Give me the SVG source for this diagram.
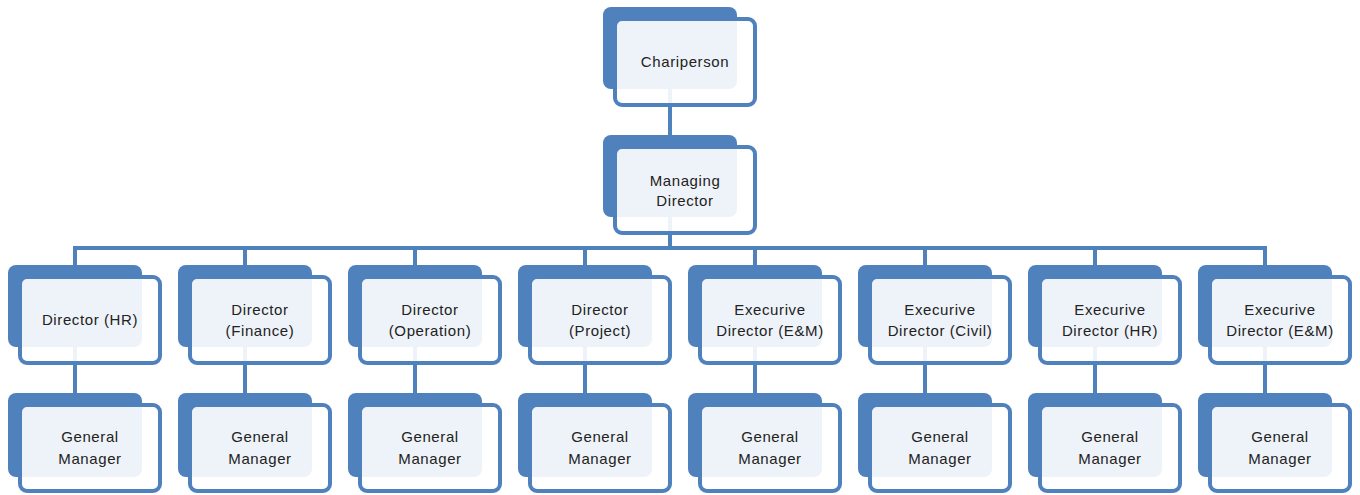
<svg xmlns="http://www.w3.org/2000/svg" width="1360" height="495" viewBox="0 0 1360 495">
<style>
.back{fill:#4f81bd}
.front{fill:#ffffff;fill-opacity:0.9;stroke:#4f81bd;stroke-width:4}
.lbl{font-family:"Liberation Sans",Arial,sans-serif;font-size:15px;fill:#222222;text-anchor:middle;letter-spacing:0.6px}
.conn{stroke:#4f81bd;stroke-width:4;fill:none}
</style>
<rect width="1360" height="495" fill="#ffffff"/>
<g id="connectors">
<line class="conn" x1="670" y1="80" x2="670" y2="140"/>
<line class="conn" x1="670" y1="200" x2="670" y2="248"/>
<line class="conn" x1="73" y1="248" x2="1267" y2="248"/>
<path class="conn" d="M75 248V270M245 248V270M415 248V270M585 248V270M755 248V270M925 248V270M1095 248V270M1265 248V270"/>
<path class="conn" d="M75 340V398M245 340V398M415 340V398M585 340V398M755 340V398M925 340V398M1095 340V398M1265 340V398"/>
</g>
<g id="chairperson"><rect class="back" x="603" y="7" width="134" height="82" rx="8"/><rect class="front" x="615" y="19" width="140" height="86" rx="7"/><text class="lbl" x="685" y="67">Chariperson</text></g>
<g id="md"><rect class="back" x="603" y="135" width="134" height="82" rx="8"/><rect class="front" x="615" y="147" width="140" height="86" rx="7"/><text class="lbl" x="685" y="186">Managing</text><text class="lbl" x="685" y="206">Director</text></g>

<g id="d1"><rect class="back" x="8" y="265" width="134" height="82" rx="8"/><rect class="front" x="20" y="277" width="140" height="86" rx="7"/><text class="lbl" x="90" y="325">Director (HR)</text></g>
<g id="d2"><rect class="back" x="178" y="265" width="134" height="82" rx="8"/><rect class="front" x="190" y="277" width="140" height="86" rx="7"/><text class="lbl" x="260" y="315">Director</text><text class="lbl" x="260" y="336">(Finance)</text></g>
<g id="d3"><rect class="back" x="348" y="265" width="134" height="82" rx="8"/><rect class="front" x="360" y="277" width="140" height="86" rx="7"/><text class="lbl" x="430" y="315">Director</text><text class="lbl" x="430" y="336">(Operation)</text></g>
<g id="d4"><rect class="back" x="518" y="265" width="134" height="82" rx="8"/><rect class="front" x="530" y="277" width="140" height="86" rx="7"/><text class="lbl" x="600" y="315">Director</text><text class="lbl" x="600" y="336">(Project)</text></g>
<g id="d5"><rect class="back" x="688" y="265" width="134" height="82" rx="8"/><rect class="front" x="700" y="277" width="140" height="86" rx="7"/><text class="lbl" x="770" y="315">Execurive</text><text class="lbl" x="770" y="336">Director (E&amp;M)</text></g>
<g id="d6"><rect class="back" x="858" y="265" width="134" height="82" rx="8"/><rect class="front" x="870" y="277" width="140" height="86" rx="7"/><text class="lbl" x="940" y="315">Execurive</text><text class="lbl" x="940" y="336">Director (Civil)</text></g>
<g id="d7"><rect class="back" x="1028" y="265" width="134" height="82" rx="8"/><rect class="front" x="1040" y="277" width="140" height="86" rx="7"/><text class="lbl" x="1110" y="315">Execurive</text><text class="lbl" x="1110" y="336">Director (HR)</text></g>
<g id="d8"><rect class="back" x="1198" y="265" width="134" height="82" rx="8"/><rect class="front" x="1210" y="277" width="140" height="86" rx="7"/><text class="lbl" x="1280" y="315">Execurive</text><text class="lbl" x="1280" y="336">Director (E&amp;M)</text></g>

<g id="g1"><rect class="back" x="8" y="393" width="134" height="84" rx="8"/><rect class="front" x="20" y="405" width="140" height="86" rx="7"/><text class="lbl" x="90" y="442">General</text><text class="lbl" x="90" y="464">Manager</text></g>
<g id="g2"><rect class="back" x="178" y="393" width="134" height="84" rx="8"/><rect class="front" x="190" y="405" width="140" height="86" rx="7"/><text class="lbl" x="260" y="442">General</text><text class="lbl" x="260" y="464">Manager</text></g>
<g id="g3"><rect class="back" x="348" y="393" width="134" height="84" rx="8"/><rect class="front" x="360" y="405" width="140" height="86" rx="7"/><text class="lbl" x="430" y="442">General</text><text class="lbl" x="430" y="464">Manager</text></g>
<g id="g4"><rect class="back" x="518" y="393" width="134" height="84" rx="8"/><rect class="front" x="530" y="405" width="140" height="86" rx="7"/><text class="lbl" x="600" y="442">General</text><text class="lbl" x="600" y="464">Manager</text></g>
<g id="g5"><rect class="back" x="688" y="393" width="134" height="84" rx="8"/><rect class="front" x="700" y="405" width="140" height="86" rx="7"/><text class="lbl" x="770" y="442">General</text><text class="lbl" x="770" y="464">Manager</text></g>
<g id="g6"><rect class="back" x="858" y="393" width="134" height="84" rx="8"/><rect class="front" x="870" y="405" width="140" height="86" rx="7"/><text class="lbl" x="940" y="442">General</text><text class="lbl" x="940" y="464">Manager</text></g>
<g id="g7"><rect class="back" x="1028" y="393" width="134" height="84" rx="8"/><rect class="front" x="1040" y="405" width="140" height="86" rx="7"/><text class="lbl" x="1110" y="442">General</text><text class="lbl" x="1110" y="464">Manager</text></g>
<g id="g8"><rect class="back" x="1198" y="393" width="134" height="84" rx="8"/><rect class="front" x="1210" y="405" width="140" height="86" rx="7"/><text class="lbl" x="1280" y="442">General</text><text class="lbl" x="1280" y="464">Manager</text></g>
</svg>
